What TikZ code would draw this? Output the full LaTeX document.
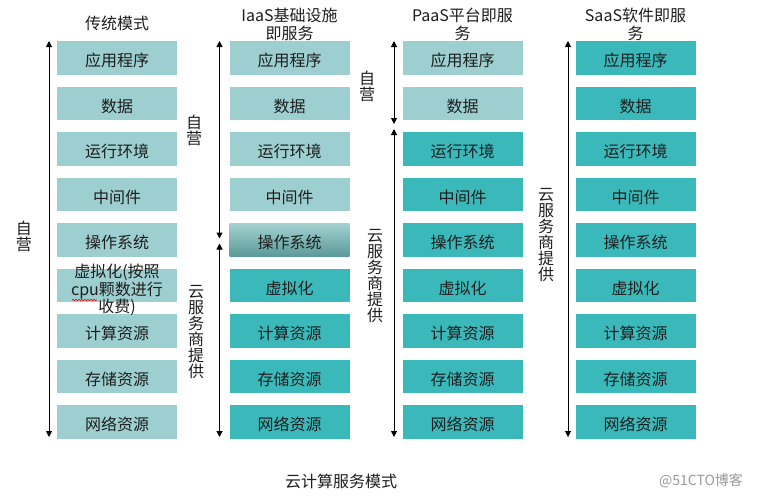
\documentclass[tikz,border=0pt]{standalone}
\usepackage{fontspec}
\setmainfont{Noto Sans CJK SC}
\usetikzlibrary{arrows.meta,decorations.pathmorphing}
\definecolor{lightfill}{HTML}{9DCFD0}
\definecolor{darkfill}{HTML}{3BB9BA}
\definecolor{gradtop}{HTML}{A4D3D2}
\definecolor{gradbot}{HTML}{5A9998}
\definecolor{txt}{HTML}{1E1E1E}
\tikzset{
  box/.style={minimum width=120pt,minimum height=33.5pt,inner sep=0pt,draw=none,
    text=txt,font=\fontsize{16}{18}\selectfont,text height=20pt,text depth=2pt},
  lb/.style={box,fill=lightfill},
  db/.style={box,fill=darkfill},
  gb/.style={box,top color=gradtop,bottom color=gradbot},
  lbl/.style={text=txt,font=\fontsize{16}{17.5}\selectfont,align=center,inner sep=0pt},
  vlbl/.style={text=txt,font=\fontsize{16}{16}\selectfont,align=center,inner sep=0pt},
  arr/.style={line width=1pt,{Triangle[length=6pt,width=6pt]}-{Triangle[length=6pt,width=6pt]}}
}
\begin{document}
\begin{tikzpicture}[x=1pt,y=-1pt]
\useasboundingbox (0,0) rectangle (760,499);
\fill[white] (0,0) rectangle (760,499);
% headers
\node[lbl] (h1) at (117,23.5) {传统模式};
\node[lbl] (h2) at (289.5,24.5) {IaaS基础设施\\即服务};
\node[lbl] (h3) at (462.5,24.5) {PaaS平台即服\\务};
\node[lbl] (h4) at (635.5,24.5) {SaaS软件即服\\务};
% boxes
\foreach \lab/\sa/\sb [count=\i] in {应用程序/lb/lb,数据/lb/lb,运行环境/lb/db,中间件/lb/db,操作系统/gb/db,虚拟化/db/db,计算资源/db/db,存储资源/db/db,网络资源/db/db}{
  \pgfmathsetmacro{\yc}{57.75+45.5*(\i-1)}
  \ifnum\i=6
    \node[lb] (c1r\i) at (117,\yc) {};
  \else
    \node[lb] (c1r\i) at (117,\yc) {\lab};
  \fi
  \node[\sa] (c2r\i) at (289.5,\yc) {\lab};
  \node[\sb] (c3r\i) at (462.5,\yc) {\lab};
  \node[db] (c4r\i) at (635.5,\yc) {\lab};
}
\node[lbl] (virt1) at (117,290) {虚拟化(按照\\cpu颗数进行\\收费)};
\draw[red,line width=0.6pt,decorate,
  decoration={snake,amplitude=0.8pt,segment length=3pt}] (72,300) -- (97,300);
% arrows
\coordinate (a1t) at (49,41);
\coordinate (a1b) at (49,437);
\draw[arr] (a1t) -- (a1b);
\coordinate (a2t) at (219.5,41);
\coordinate (a2m1) at (219.5,238.5);
\coordinate (a2m2) at (219.5,243.5);
\coordinate (a2b) at (219.5,437);
\draw[arr] (a2t) -- (a2m1);
\draw[arr] (a2m2) -- (a2b);
\coordinate (a3t) at (394,41);
\coordinate (a3m1) at (394,124);
\coordinate (a3m2) at (394,129);
\coordinate (a3b) at (394,437);
\draw[arr] (a3t) -- (a3m1);
\draw[arr] (a3m2) -- (a3b);
\coordinate (a4t) at (568,41);
\coordinate (a4b) at (568,437);
\draw[arr] (a4t) -- (a4b);
% side labels
\node[vlbl] (s1) at (24,236) {自\\营};
\node[vlbl] (s2a) at (194,130) {自\\营};
\node[vlbl] (s2b) at (196,332) {云\\服\\务\\商\\提\\供};
\node[vlbl] (s3a) at (367,86) {自\\营};
\node[vlbl] (s3b) at (375,276) {云\\服\\务\\商\\提\\供};
\node[vlbl] (s4) at (546,235) {云\\服\\务\\商\\提\\供};
% footer
\node[lbl] (foot) at (341,481) {云计算服务模式};
\node[text=gray!80,font=\fontsize{14}{14}\selectfont,inner sep=0pt] (wm) at (701,481) {@51CTO博客};
\end{tikzpicture}
\end{document}
